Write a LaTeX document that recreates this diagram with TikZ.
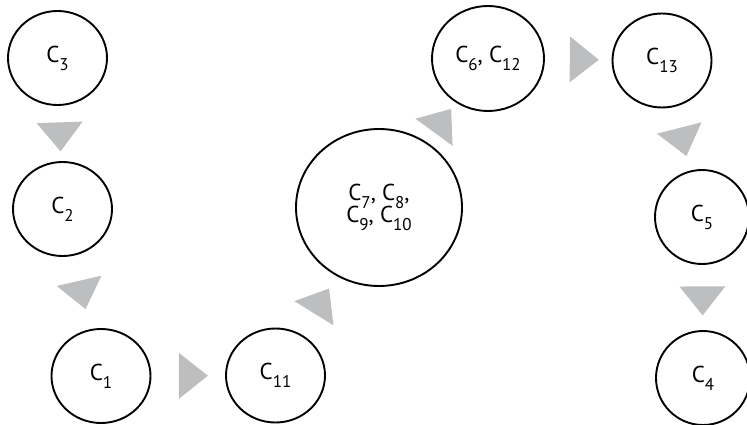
\documentclass[tikz,border=0pt]{standalone}
\usepackage{fontspec}
\setmainfont{PT Sans}
\usetikzlibrary{shapes.geometric}
\definecolor{trigray}{RGB}{188,190,192}
\newcommand{\Csub}[1]{\raisebox{-8pt}{\fontsize{17}{17}\selectfont #1}}
\begin{document}
\begin{tikzpicture}[x=1pt,y=-1pt,
  state/.style={ellipse, draw, line width=1.9pt, minimum width=99pt, minimum height=94pt,
    inner sep=0pt, font=\fontsize{23}{24}\selectfont, align=center},
  arrowtri/.style={isosceles triangle, isosceles triangle stretches, fill=trigray, draw=none,
    minimum width=46pt, minimum height=29pt, inner sep=0pt, sloped, anchor=center}]
\useasboundingbox (0,0) rectangle (747,425);

\node[state] (c3) at (57.5,58) {C\Csub{3}};
\node[state] (c2) at (62.5,209) {C\Csub{2}};
\node[state] (c1) at (101,376) {C\Csub{1}};
\node[state] (c11) at (275.5,375.5) {C\Csub{11}};
\node[state, minimum width=166pt, minimum height=157pt] (c7) at (379,207.5)
  {C\Csub{7}, C\Csub{8},\\[-3pt] C\Csub{9}, C\Csub{10}};
\node[state, minimum width=112pt, minimum height=105pt] (c6) at (488,58.5) {C\Csub{6}, C\Csub{12}};
\node[state] (c13) at (662,60.5) {C\Csub{13}};
\node[state, minimum width=94pt] (c5) at (702,217) {C\Csub{5}};
\node[state, minimum width=94pt] (c4) at (703,378) {C\Csub{4}};

\path (c3.center) -- node[arrowtri, pos=0.5] {} (c2.center);
\path (c2.center) -- node[arrowtri, pos=0.495] {} (c1.center);
\path (c1.center) -- node[arrowtri, pos=0.51] {} (c11.center);
\path (c11.center) -- node[arrowtri, pos=0.427] {} (c7.center);
\path (c7.center) -- node[arrowtri, pos=0.565] {} (c6.center);
\path (c6.center) -- node[arrowtri, pos=0.534] {} (c13.center);
\path (c13.center) -- node[arrowtri, pos=0.5] {} (c5.center);
\path (c5.center) -- node[arrowtri, pos=0.5] {} (c4.center);
\end{tikzpicture}
\end{document}
